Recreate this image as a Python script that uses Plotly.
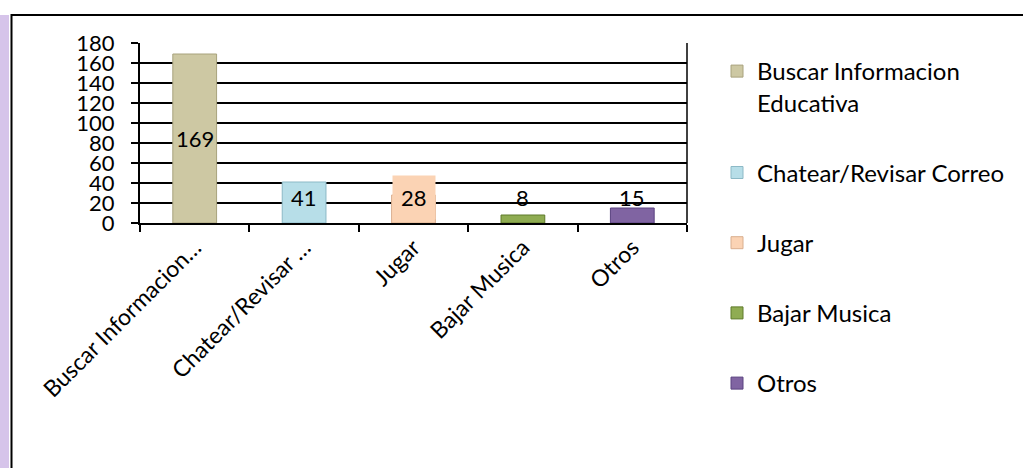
import plotly.graph_objects as go

# Daten
categories = ["Buscar Informacion Educativa", "Chatear/Revisar Correo", "Jugar", "Bajar Musica", "Otros"]
tick_labels = ["Buscar Informacion…", "Chatear/Revisar …", "Jugar", "Bajar Musica", "Otros"]
legend_names = ["Buscar Informacion<br>Educativa", "Chatear/Revisar Correo", "Jugar", "Bajar Musica", "Otros"]
values = [169, 41, 28, 8, 15]
y_ticks = [0, 20, 40, 60, 80, 100, 120, 140, 160, 180]

colors = ["#cdc8a3", "#b7dee8", "#fbd3b4", "#8fac52", "#8064a2"]
edges = ["#a8a27c", "#8cb9c6", "#d9ae8e", "#5f7a2a", "#5b4380"]

W, H = 1023, 468
L, R, T, B = 140, 687, 43, 223  # Plotbereich in Pixel


def px_x(px):
    return (px - L) / (R - L)


def px_y(py):
    return (B - py) / (B - T)


font = "Lato, Carlito, Calibri, sans-serif"

fig = go.Figure()
for i, cat in enumerate(categories):
    fig.add_trace(go.Bar(
        x=[tick_labels[i]],
        y=[values[i]],
        name=legend_names[i],
        legendgroup=str(i),
        width=0.4,
        marker=dict(color=colors[i], line=dict(color=edges[i], width=1)),
        hoverinfo="skip",
    ))

# Datenbeschriftungen
for i, v in enumerate(values):
    ly = v / 2 if v > 60 else 26
    fig.add_annotation(
        x=tick_labels[i], y=ly, text=str(v), showarrow=False,
        font=dict(size=22, color="black", family=font),
        bgcolor=colors[i] if i == 2 else None,
        borderpad=8 if i == 2 else 0,
    )

# Rahmen, Streifen
shapes = [
    dict(type="rect", xref="paper", yref="paper",
         x0=px_x(0), x1=px_x(9), y0=px_y(15), y1=px_y(470),
         fillcolor="#d6c4ea", line=dict(width=0), layer="below"),
    dict(type="line", xref="paper", yref="paper",
         x0=px_x(11), x1=px_x(1025), y0=px_y(15), y1=px_y(15),
         line=dict(color="black", width=2)),
    dict(type="line", xref="paper", yref="paper",
         x0=px_x(11.5), x1=px_x(11.5), y0=px_y(14), y1=px_y(470),
         line=dict(color="black", width=2)),
    dict(type="line", xref="x domain", yref="y domain",
         x0=1, x1=1, y0=0, y1=1,
         line=dict(color="black", width=1.5)),
]

fig.update_layout(
    width=W, height=H,
    margin=dict(l=L, r=W - R, t=T, b=H - B, pad=0),
    paper_bgcolor="white", plot_bgcolor="white",
    font=dict(family=font, size=22, color="black"),
    bargap=0.6,
    shapes=shapes,
    showlegend=True,
    legend=dict(
        x=px_x(717), y=px_y(49), xanchor="left", yanchor="top",
        font=dict(size=24, family=font, color="black"),
        tracegroupgap=36, valign="top", traceorder="grouped",
        bgcolor="rgba(0,0,0,0)", maxheight=440,
    ),
)

fig.update_xaxes(
    tickangle=-45, tickson="boundaries", ticks="outside", ticklen=7,
    tickcolor="black", tickwidth=1.5,
    showline=True, linecolor="black", linewidth=2,
    showgrid=False, tickfont=dict(size=23, family=font),
)
fig.update_yaxes(
    range=[0, 180], tickvals=y_ticks, ticks="outside", ticklen=7,
    tickcolor="black", tickwidth=1.5,
    showline=True, linecolor="black", linewidth=2,
    showgrid=True, gridcolor="black", gridwidth=1.5, zeroline=False,
    tickfont=dict(size=22, family=font), ticklabelstandoff=12,
)

fig.write_html(
    "out.html",
    config={"displayModeBar": False},
    post_script="document.body.style.margin='0px';",
)
